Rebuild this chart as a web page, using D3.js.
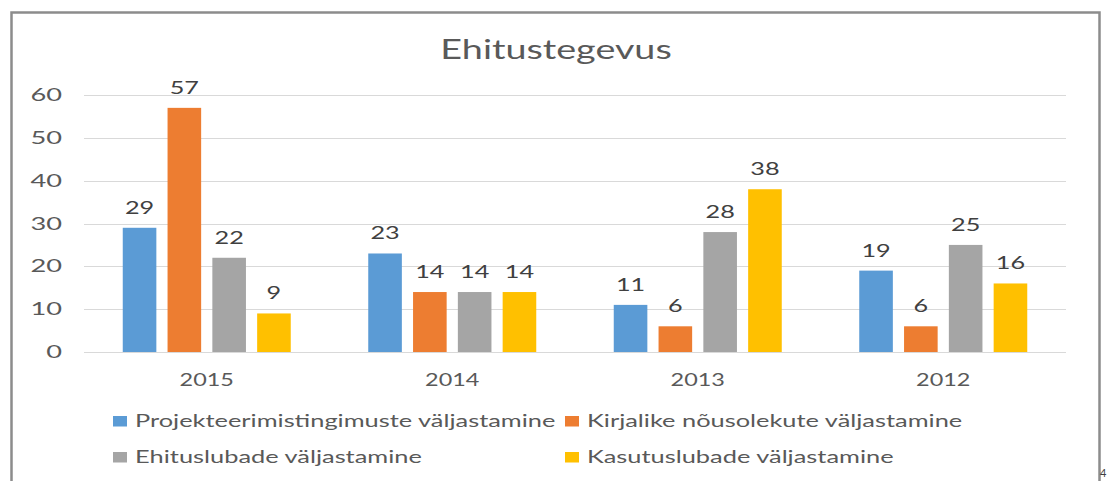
<!DOCTYPE html>
<html><head><meta charset="utf-8">
<script src="https://cdn.jsdelivr.net/npm/d3@7"></script>
<style>
html,body{margin:0;padding:0;background:#fff;overflow:hidden}
text{font-family:Lato,"Open Sans",sans-serif}
</style></head>
<body><svg id="c" width="1107" height="481"></svg>
<script>
const categories = ["2015","2014","2013","2012"];
const seriesNames = ["Projekteerimistingimuste väljastamine","Kirjalike nõusolekute väljastamine","Ehituslubade väljastamine","Kasutuslubade väljastamine"];
const projekteerimis = [29,23,11,19];
const kirjalike = [57,14,6,6];
const ehitusload = [22,14,28,25];
const kasutusload = [9,14,38,16];
const yTicks = [0,10,20,30,40,50,60];
const colors = ["#5B9BD5","#ED7D31","#A5A5A5","#FFC000"];
const seriesValues = [projekteerimis,kirjalike,ehitusload,kasutusload];

const svg = d3.select("#c");
function stretch(sel,k){ sel.each(function(){ const w=this.getComputedTextLength(); d3.select(this).attr("textLength",w*k).attr("lengthAdjust","spacingAndGlyphs");}); }

// border
svg.append("rect").attr("x",11.5).attr("y",12.5).attr("width",1088).attr("height",480).attr("fill","none").attr("stroke","#8c8c8c").attr("stroke-width",2.5);

const x0 = d3.scaleBand().domain(categories).range([84,1066]);
const x1 = d3.scaleBand().domain(d3.range(4)).range([-84,84]).paddingInner(0.25);
const y = d3.scaleLinear().domain([0,60]).range([352,95]);

// grid
svg.append("g").selectAll("line").data(yTicks).join("line")
  .attr("x1",84).attr("x2",1066).attr("y1",d=>Math.round(y(d))+0.5).attr("y2",d=>Math.round(y(d))+0.5)
  .attr("stroke","#d9d9d9").attr("stroke-width",1);

// y labels
const yl = svg.append("g").selectAll("text").data(yTicks).join("text")
  .attr("x",62).attr("y",d=>y(d)+6).attr("text-anchor","end")
  .attr("font-size",17).attr("fill","#595959").text(d=>d);
stretch(yl,1.6);

// bars
const groups = svg.append("g").selectAll("g").data(categories).join("g")
  .attr("transform",d=>`translate(${x0(d)+x0.bandwidth()/2},0)`);
groups.each(function(cat,ci){
  const g = d3.select(this);
  const data = seriesValues.map((s,si)=>({si,v:s[ci]}));
  g.selectAll("rect").data(data).join("rect")
    .attr("x",d=>x1(d.si)).attr("width",x1.bandwidth())
    .attr("y",d=>y(d.v)).attr("height",d=>y(0)-y(d.v)).attr("fill",d=>colors[d.si]);
  const t = g.selectAll("text").data(data).join("text")
    .attr("x",d=>x1(d.si)+x1.bandwidth()/2).attr("y",d=>y(d.v)-14)
    .attr("text-anchor","middle").attr("font-size",18).attr("fill","#404040").text(d=>d.v);
  stretch(t,1.4);
});

// x labels
const xl = svg.append("g").selectAll("text").data(categories).join("text")
  .attr("x",d=>x0(d)+x0.bandwidth()/2).attr("y",386).attr("text-anchor","middle")
  .attr("font-size",18).attr("fill","#595959").text(d=>d);
stretch(xl,1.3);

// title
const tt = svg.append("text").attr("x",556).attr("y",59).attr("text-anchor","middle")
  .attr("font-size",26).attr("fill","#595959").text("Ehitustegevus");
stretch(tt,1.45);

// legend
const legPos = [[113,416],[565,416],[113,452],[565,452]];
const lg = svg.append("g").selectAll("g").data(seriesNames).join("g")
  .attr("transform",(d,i)=>`translate(${legPos[i][0]},${legPos[i][1]})`);
lg.append("rect").attr("width",14).attr("height",10.5).attr("fill",(d,i)=>colors[i]);
const lt = lg.append("text").attr("x",22).attr("y",11).attr("font-size",18).attr("fill","#595959").text(d=>d);
stretch(lt,1.41);

// page number fragment
svg.append("text").attr("x",1100).attr("y",477).attr("font-size",11).attr("fill","#404040").text("4");
</script></body></html>
